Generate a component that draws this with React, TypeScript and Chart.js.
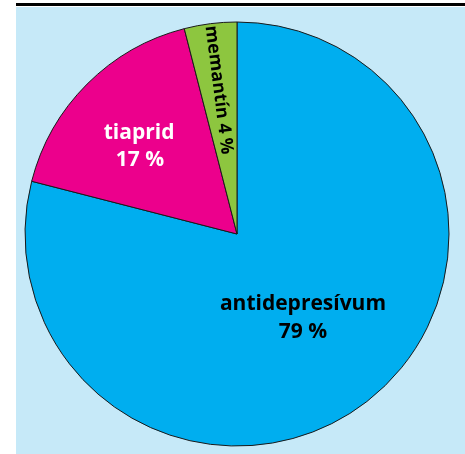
import React, { useEffect, useRef } from "react";
import { Chart, registerables } from "chart.js";

Chart.register(...registerables);

const categories = ["antidepresívum", "tiaprid", "memantín"];
const values = [79, 17, 4];
const percentLabels = ["79 %", "17 %", "4 %"];
const sliceColors = ["#00aeef", "#ec008c", "#8dc63f"];

const FONT = "bold 21px 'Open Sans', sans-serif";
const SMALL_FONT = "bold 18px 'Open Sans', sans-serif";

const backgroundPlugin = {
  id: "bg",
  beforeDraw(chart: any) {
    const ctx = chart.ctx;
    ctx.save();
    ctx.fillStyle = "#c6e9f8";
    ctx.fillRect(16, 7, 449, 447);
    ctx.fillStyle = "#000";
    ctx.fillRect(16, 3, 449, 3);
    ctx.restore();
  },
};

const labelPlugin = {
  id: "sliceLabels",
  afterDatasetsDraw(chart: any) {
    const ctx = chart.ctx;
    const meta = chart.getDatasetMeta(0);
    ctx.save();
    ctx.textAlign = "center";
    ctx.textBaseline = "middle";
    meta.data.forEach((arc: any, i: number) => {
      const { x, y, startAngle, endAngle, outerRadius } = arc.getProps(
        ["x", "y", "startAngle", "endAngle", "outerRadius"],
        true
      );
      const mid = (startAngle + endAngle) / 2;
      ctx.save();
      ctx.font = FONT;
      if (i === 0) {
        const r = outerRadius * 0.5;
        const cx = x + Math.cos(mid) * r;
        const cy = y + Math.sin(mid) * r;
        ctx.fillStyle = "#000";
        ctx.fillText(categories[i], cx + 1, cy - 14);
        ctx.fillText(percentLabels[i], cx + 1, cy + 14);
      } else if (i === 1) {
        const r = outerRadius * 0.6;
        const cx = x + Math.cos(mid) * r;
        const cy = y + Math.sin(mid) * r;
        ctx.fillStyle = "#fff";
        ctx.fillText(categories[i], cx - 8, cy - 11);
        ctx.fillText(percentLabels[i], cx - 7, cy + 16);
      } else {
        const r = outerRadius * 0.685;
        const cx = x + Math.cos(mid) * r;
        const cy = y + Math.sin(mid) * r;
        ctx.font = SMALL_FONT;
        ctx.translate(cx, cy);
        ctx.rotate(mid + Math.PI);
        ctx.fillStyle = "#000";
        ctx.fillText(categories[i] + " " + percentLabels[i], 0, 0);
      }
      ctx.restore();
    });
    ctx.restore();
  },
};

export default function App() {
  const ref = useRef<HTMLCanvasElement | null>(null);
  useEffect(() => {
    if (!ref.current) return;
    const chart = new Chart(ref.current, {
      type: "pie",
      data: {
        labels: categories,
        datasets: [
          {
            data: values,
            backgroundColor: sliceColors,
            borderColor: "#1a1a1a",
            borderWidth: 1,
          },
        ],
      },
      options: {
        responsive: false,
        animation: false,
        radius: 212,
        layout: { padding: { left: 9, right: 0, top: 14, bottom: 0 } },
        plugins: {
          legend: { display: false },
          tooltip: { enabled: false },
        },
      } as any,
      plugins: [backgroundPlugin, labelPlugin],
    });
    return () => chart.destroy();
  }, []);
  return (
    <div style={{ position: "absolute", left: 0, top: 0, width: 465, height: 454 }}>
      <canvas ref={ref} width={465} height={454} />
    </div>
  );
}
